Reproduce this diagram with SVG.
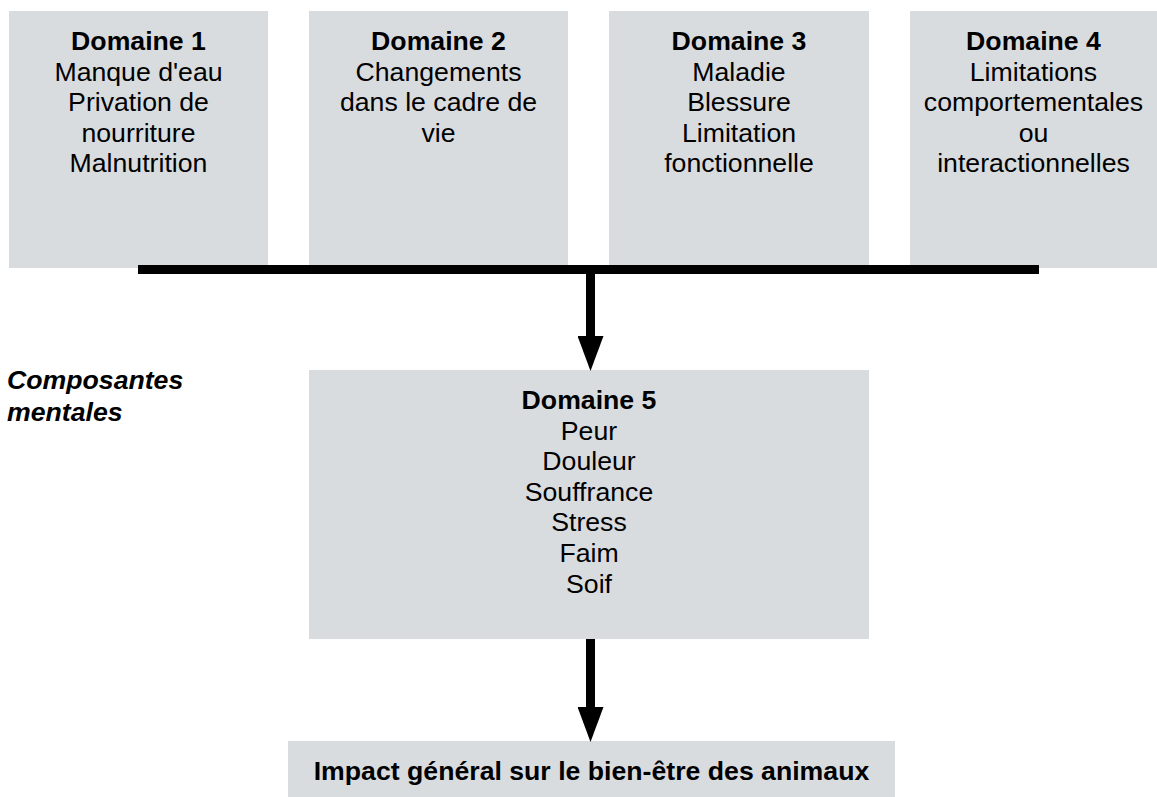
<svg xmlns="http://www.w3.org/2000/svg" width="1157" height="797" viewBox="0 0 1157 797">
<style>
.box{fill:#D9DCDF}
text{font-family:"Liberation Sans",Arial,sans-serif;font-size:26.67px;fill:#000;text-anchor:middle}
.b{font-weight:bold}
.lab{font-weight:bold;font-style:italic;text-anchor:start}
.conn{stroke:#000;stroke-width:9;fill:none}
</style>
<defs>
<marker id="ah" viewBox="0 0 35 26" markerUnits="userSpaceOnUse" markerWidth="35" markerHeight="26" refX="0" refY="13" orient="auto">
<path d="M0,0 L35,13 L0,26 z" fill="#000"/>
</marker>
</defs>
<rect width="1157" height="797" fill="#fff"/>
<g id="domaine1">
<rect class="box" x="9" y="11" width="259" height="257"/>
<text x="138.5" y="50" class="b">Domaine 1</text>
<text x="138.5" y="80.6">Manque d'eau</text>
<text x="138.5" y="111.2">Privation de</text>
<text x="138.5" y="141.8">nourriture</text>
<text x="138.5" y="172.4">Malnutrition</text>
</g>
<g id="domaine2">
<rect class="box" x="309" y="11" width="259" height="257"/>
<text x="438.5" y="50" class="b">Domaine 2</text>
<text x="438.5" y="80.6">Changements</text>
<text x="438.5" y="111.2">dans le cadre de</text>
<text x="438.5" y="141.8">vie</text>
</g>
<g id="domaine3">
<rect class="box" x="609" y="11" width="260" height="257"/>
<text x="739" y="50" class="b">Domaine 3</text>
<text x="739" y="80.6">Maladie</text>
<text x="739" y="111.2">Blessure</text>
<text x="739" y="141.8">Limitation</text>
<text x="739" y="172.4">fonctionnelle</text>
</g>
<g id="domaine4">
<rect class="box" x="910" y="11" width="247" height="257"/>
<text x="1033.5" y="50" class="b">Domaine 4</text>
<text x="1033.5" y="80.6">Limitations</text>
<text x="1033.5" y="111.2">comportementales</text>
<text x="1033.5" y="141.8">ou</text>
<text x="1033.5" y="172.4">interactionnelles</text>
</g>
<g id="composantes">
<text x="7" y="389" class="lab">Composantes</text>
<text x="7" y="420.5" class="lab">mentales</text>
</g>
<g id="domaine5">
<rect class="box" x="309" y="370" width="560" height="269"/>
<text x="589" y="409" class="b">Domaine 5</text>
<text x="589" y="439.6">Peur</text>
<text x="589" y="470.2">Douleur</text>
<text x="589" y="500.8">Souffrance</text>
<text x="589" y="531.4">Stress</text>
<text x="589" y="562">Faim</text>
<text x="589" y="592.6">Soif</text>
</g>
<g id="impact">
<rect class="box" x="288" y="741" width="607" height="56"/>
<text x="591.5" y="780" class="b">Impact général sur le bien-être des animaux</text>
</g>
<g id="connectors">
<rect x="138" y="265" width="901" height="9" fill="#000"/>
<line class="conn" x1="590.5" y1="270" x2="590.5" y2="336" marker-end="url(#ah)"/>
<line class="conn" x1="590.5" y1="639" x2="590.5" y2="707" marker-end="url(#ah)"/>
</g>
</svg>
